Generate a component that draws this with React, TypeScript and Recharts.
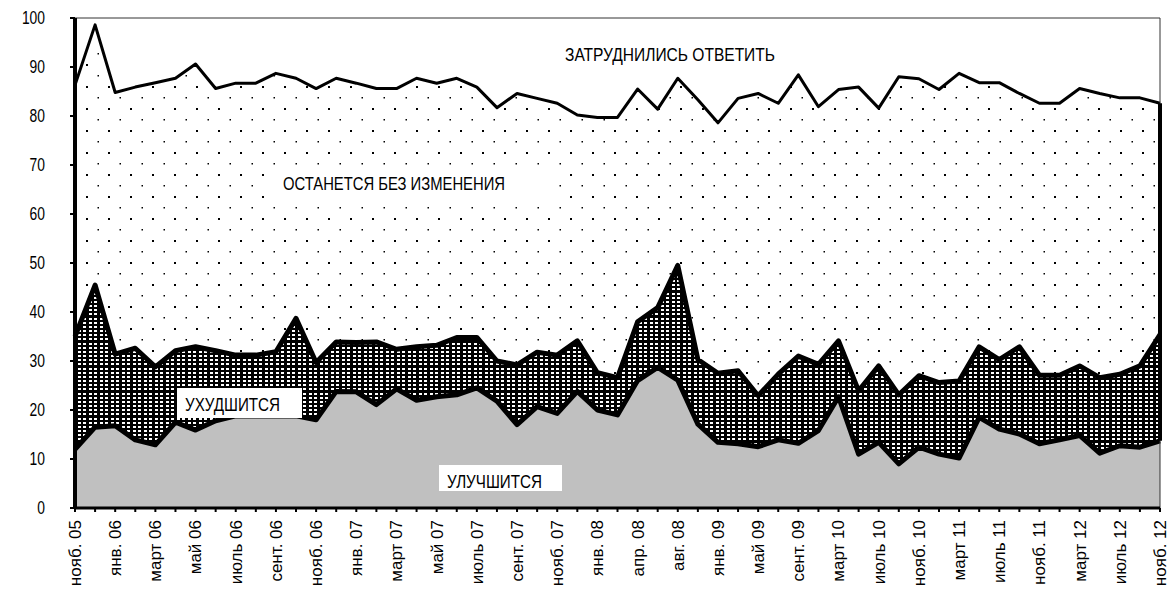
import React from "react";
import {
  ComposedChart,
  Area,
  Line,
  XAxis,
  YAxis,
  ReferenceLine,
} from "recharts";

// survey waves (only every second one is labelled on the axis)
const months = [
  "нояб. 05", "дек. 05", "янв. 06", "февр. 06", "март 06", "апр. 06", "май 06",
  "июнь 06", "июль 06", "авг. 06", "сент. 06", "окт. 06", "нояб. 06", "дек. 06",
  "янв. 07", "февр. 07", "март 07", "апр. 07", "май 07", "июнь 07", "июль 07",
  "авг. 07", "сент. 07", "окт. 07", "нояб. 07", "дек. 07", "янв. 08", "февр. 08",
  "апр. 08", "июнь 08", "авг. 08", "нояб. 08", "янв. 09", "март 09", "май 09",
  "июль 09", "сент. 09", "дек. 09", "март 10", "май 10", "июль 10", "сент. 10",
  "нояб. 10", "янв. 11", "март 11", "май 11", "июль 11", "сент. 11", "нояб. 11",
  "янв. 12", "март 12", "май 12", "июль 12", "сент. 12", "нояб. 12",
];

const improve = [
  12, 16.5, 16.8, 13.9, 12.9, 17.5, 15.9, 17.8, 18.8, 18.8, 18.8, 18.8, 18, 23.8,
  23.7, 21.1, 24.3, 22, 22.7, 23.1, 24.5, 21.8, 17, 20.7, 19.3, 23.8, 20, 19,
  26, 28.7, 26.1, 17.1, 13.4, 13.1, 12.5, 13.9, 13.2, 15.8, 22.7, 11, 13.4, 9,
  12.4, 11, 10.2, 18.5, 16.1, 15.1, 13.1, 13.9, 14.8, 11.2, 12.7, 12.4, 13.7,
];

const worsen = [
  23, 29, 14.6, 18.7, 15.9, 14.6, 17, 14.3, 12.4, 12.4, 13.1, 19.9, 11.7, 10.1,
  10.1, 12.8, 8.1, 10.9, 10.5, 11.7, 10.3, 8.2, 12.2, 11.1, 11.9, 10.3, 7.6, 7.6,
  12, 12.2, 23.4, 13.2, 14.1, 14.9, 10.4, 13.4, 17.8, 13.5, 11.4, 12.9, 15.6, 14.1,
  14.6, 14.6, 15.7, 14.4, 14.2, 17.8, 14, 13.2, 14.2, 15.4, 14.6, 16.6, 21.7,
];

const same = [
  51.3, 53.1, 53.4, 53.3, 58, 55.6, 57.7, 53.5, 55.5, 55.5, 56.8, 49, 55.9, 53.8,
  52.9, 51.7, 53.2, 54.8, 53.5, 52.9, 51.1, 51.7, 55.4, 51.8, 51.4, 46.1, 52.1, 53.1,
  47.5, 40.5, 38.2, 53, 51.1, 55.6, 61.7, 55.3, 57.4, 52.6, 51.3, 62, 52.6, 64.9,
  60.6, 59.8, 62.8, 53.9, 56.5, 51.7, 55.5, 55.5, 56.6, 58, 56.4, 54.7, 47.2,
];

const hard = [
  13.7, 1.4, 15.2, 14.1, 13.2, 12.3, 9.4, 14.4, 13.3, 13.3, 11.3, 12.3, 14.4, 12.3,
  13.3, 14.4, 14.4, 12.3, 13.3, 12.3, 14.1, 18.3, 15.4, 16.4, 17.4, 19.8, 20.3, 20.3,
  14.5, 18.6, 12.3, 16.7, 21.4, 16.4, 15.4, 17.4, 11.6, 18.1, 14.6, 14.1, 18.4, 12,
  12.4, 14.6, 11.3, 13.2, 13.2, 15.4, 17.4, 17.4, 14.4, 15.4, 16.3, 16.3, 17.4,
];

const yTicks = [0, 10, 20, 30, 40, 50, 60, 70, 80, 90, 100];

const data = months.map((m, i) => ({
  month: m,
  improve: improve[i],
  worsen: worsen[i],
  same: same[i],
  hard: hard[i],
}));

const last = months.length - 1;
const NARROW = "'Liberation Sans Narrow', 'Arial Narrow', 'Liberation Sans', sans-serif";
const REGULAR = "'Liberation Sans', Arial, sans-serif";

const MonthTick = (props: any) => {
  const { x, y, payload, index } = props;
  if (index % 2 !== 0) return null;
  const ty = y + 6;
  return (
    <text
      x={x}
      y={ty}
      transform={`rotate(-90, ${x}, ${ty})`}
      textAnchor="end"
      dy="0.35em"
      fontSize={17}
      fontFamily={REGULAR}
      fill="#000"
    >
      {payload.value}
    </text>
  );
};

// narrow-looking value labels on the y axis
const ValueTick = (props: any) => {
  const { x, y, payload } = props;
  const s = String(payload.value);
  const w = s.length * 7.7;
  return (
    <text
      x={x - w}
      y={y}
      dy="0.36em"
      fontSize={18}
      fontFamily={NARROW}
      textLength={w}
      lengthAdjust="spacingAndGlyphs"
      fill="#000"
    >
      {s}
    </text>
  );
};

const Note = ({ box, x, y, w, text }: any) => (
  <g>
    {box && <rect x={box[0]} y={box[1]} width={box[2]} height={box[3]} fill="#fff" />}
    <text
      x={x}
      y={y}
      fontSize={19}
      fontFamily={NARROW}
      textLength={w}
      lengthAdjust="spacingAndGlyphs"
      fill="#000"
    >
      {text}
    </text>
  </g>
);

const denseRows = [1, 5, 9, 13, 18, 22];
const denseCols = [1, 6];

export default function App() {
  return (
    <div style={{ position: "absolute", left: 0, top: 0, width: 1174, height: 591 }}>
      <ComposedChart
        width={1174}
        height={591}
        data={data}
        margin={{ top: 18, right: 14, left: 0, bottom: 0 }}
      >
        <defs>
          <pattern id="sparseDots" patternUnits="userSpaceOnUse" width={22} height={22}>
            <rect width={22} height={22} fill="#fff" />
            <rect x={20} y={20} width={2} height={2} fill="#000" />
            <rect x={9.5} y={9} width={1.5} height={1.5} fill="#000" />
          </pattern>
          <pattern id="denseDots" patternUnits="userSpaceOnUse" width={11} height={25}>
            <rect width={11} height={25} fill="#000" />
            {denseRows.map((ry) =>
              denseCols.map((cx) => (
                <rect key={`${ry}-${cx}`} x={cx} y={ry} width={3} height={2} fill="#fff" />
              ))
            )}
          </pattern>
        </defs>
        <Area dataKey="improve" stackId="a" type="linear" fill="#c0c0c0" fillOpacity={1} stroke="none" isAnimationActive={false} />
        <Area dataKey="worsen" stackId="a" type="linear" fill="url(#denseDots)" fillOpacity={1} stroke="none" isAnimationActive={false} />
        <Area dataKey="same" stackId="a" type="linear" fill="url(#sparseDots)" fillOpacity={1} stroke="none" isAnimationActive={false} />
        <Area dataKey="hard" stackId="a" type="linear" fill="#fff" fillOpacity={1} stroke="none" isAnimationActive={false} />
        <Line
          dataKey={(d: any) => d.improve}
          type="linear"
          stroke="#000"
          strokeWidth={5}
          strokeLinejoin="round"
          dot={false}
          activeDot={false}
          isAnimationActive={false}
        />
        <Line
          dataKey={(d: any) => d.improve + d.worsen}
          type="linear"
          stroke="#000"
          strokeWidth={5}
          strokeLinejoin="round"
          dot={false}
          activeDot={false}
          isAnimationActive={false}
        />
        <Line
          dataKey={(d: any) => d.improve + d.worsen + d.same}
          type="linear"
          stroke="#000"
          strokeWidth={3}
          strokeLinejoin="round"
          dot={false}
          activeDot={false}
          isAnimationActive={false}
        />
        <ReferenceLine y={100} stroke="#333" strokeWidth={1} />
        <ReferenceLine x={months[last]} stroke="#333" strokeWidth={1} />
        <ReferenceLine
          segment={[
            { x: months[last], y: improve[last] },
            { x: months[last], y: improve[last] + worsen[last] + same[last] },
          ]}
          stroke="#000"
          strokeWidth={4}
        />
        <XAxis
          dataKey="month"
          type="category"
          scale="point"
          interval={0}
          height={83}
          axisLine={{ stroke: "#000", strokeWidth: 3 }}
          tickLine={{ stroke: "#000", strokeWidth: 2 }}
          tickSize={4}
          tick={<MonthTick />}
        />
        <YAxis
          type="number"
          domain={[0, 100]}
          ticks={yTicks}
          width={75}
          interval={0}
          axisLine={{ stroke: "#000", strokeWidth: 4 }}
          tickLine={{ stroke: "#000", strokeWidth: 2 }}
          tickSize={5}
          tickMargin={25}
          tick={<ValueTick />}
        />
      </ComposedChart>
      <svg
        width={1174}
        height={591}
        style={{ position: "absolute", left: 0, top: 0, pointerEvents: "none" }}
      >
        <Note x={565} y={61} w={210} text="ЗАТРУДНИЛИСЬ ОТВЕТИТЬ" />
        <Note box={[273, 167, 280, 31]} x={283} y={190} w={222} text="ОСТАНЕТСЯ БЕЗ ИЗМЕНЕНИЯ" />
        <Note box={[177, 388, 125, 30]} x={185} y={411} w={95} text="УХУДШИТСЯ" />
        <Note box={[439, 465, 123, 26]} x={447} y={488} w={95} text="УЛУЧШИТСЯ" />
      </svg>
    </div>
  );
}
